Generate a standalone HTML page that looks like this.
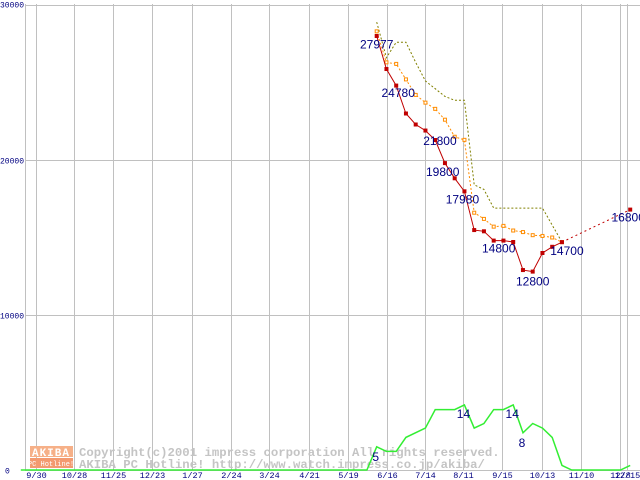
<!DOCTYPE html>
<html><head><meta charset="utf-8"><style>
body{margin:0;background:#fff;width:640px;height:480px;overflow:hidden}
svg{display:block;font-family:"Liberation Mono",monospace}
</style></head><body>
<svg id="chart" width="640" height="480" viewBox="0 0 640 480" xmlns="http://www.w3.org/2000/svg">
<g id="grid"></g>
<g id="watermark">
<rect x="30" y="446" width="43" height="11" fill="#f6b088"/>
<rect x="30" y="458" width="43" height="10" fill="#f39a70"/>
<text x="51" y="456" font-size="11" fill="#fff" text-anchor="middle" font-weight="bold" letter-spacing="1">AKIBA</text>
<text x="51" y="466" font-size="7" fill="#fff" text-anchor="middle">PC Hotline!</text>
<text x="79" y="456" font-size="12.3" fill="#c4c4c4" font-weight="bold">Copyright(c)2001 impress corporation All rights reserved.</text>
<text x="79" y="468" font-size="12.3" fill="#c4c4c4" font-weight="bold">AKIBA PC Hotline!  http://www.watch.impress.co.jp/akiba/</text>
</g>
<g id="series"></g>
<g id="labels"></g>
</svg>
<script>
// data
const xTickLabels = ["9/30","10/28","11/25","12/23","1/27","2/24","3/24","4/21","5/19","6/16","7/14","8/11","9/15","10/13","11/10","12/8","12/15"];
const xTickWeeks = [-34.9,-31,-27,-23,-18.9,-14.9,-11,-6.9,-2.9,1.05,5,8.9,12.9,17,21,25,25.7];
const yTicks = [0,10000,20000,30000];
const minPrice = [28000,25870,24800,23000,22290,21900,21290,19800,18820,17980,15480,15400,14800,14800,14710,12900,12800,14000,14400,14700];
const minWeeks = [0,1,2,3,4,5,6,7,8,9,10,11,12,13,14,15,16,17,18,19];
const lastWeek = 26, lastPrice = 16800;
const avgPrice = [28300,26300,26200,25200,24200,23700,23300,22600,21500,21300,16600,16200,15700,15750,15450,15350,15150,15100,15000,14700];
const maxPrice = [28900,26600,27600,27600,26300,25100,24600,24100,23850,23850,18400,18100,16900,16900,16900,16900,16900,16900,15800,14700];
const shopWeeks = [-1,0,1,2,3,5,6,8,9,10,11,12,13,14,15,16,17,18,19,20,25,26];
const shopCount = [0,5,4,4,7,9,13,13,14,9,10,13,13,14,8,10,9,7,1,0,0,1];
const priceLabelWeeks = [0,2,7,8,9,12,16,19,26];
const priceLabelValues = [27977,24780,21800,19800,17980,14800,12800,14700,16800];
const countLabelWeeks = [0,9,14,15];
const countLabelValues = [5,14,14,8];

// label offsets (layout, not data)
const priceLabelDx=[0,2,-5,-12,-2,5,0,5,-2], priceLabelDy=[12,11,13,13,12,12,14,13,12];
const NS="http://www.w3.org/2000/svg";
const X=w=>376.7+9.75*w;
const Y=v=>470-v*155/10000;
const C=c=>Y(c*300);
function mk(tag,attrs,parent){const e=document.createElementNS(NS,tag);for(const k in attrs)e.setAttribute(k,attrs[k]);parent.appendChild(e);return e;}
const grid=document.getElementById('grid'),ser=document.getElementById('series'),lab=document.getElementById('labels');

yTicks.forEach((v,i)=>{
  const y=Math.round(Y(v))+0.5;
  const l=mk('line',{x1:25,x2:640,y1:y,y2:y,stroke:'#c0c0c0','stroke-width':1},grid);
  
  
  const t=mk('text',{x:v==0?5:0,y:y+(v==30000?2:3),'font-size':8,fill:'#000080'},grid);
  t.textContent=String(v);
  
  
});
const ax=mk('line',{x1:25.5,x2:25.5,y1:4,y2:470,stroke:'#c0c0c0'},grid);


xTickWeeks.forEach((w,i)=>{
  const x=Math.round(X(w))+0.5;
  const l=mk('line',{x1:x,x2:x,y1:4,y2:470,stroke:'#c0c0c0'},grid);
  
  
  const t=mk('text',{x:x,y:478,'font-size':8.5,fill:'#000080','text-anchor':'middle'},grid);
  t.textContent=xTickLabels[i];
  
  
});

function pts(ws,vs,f){return ws.map((w,i)=>X(w).toFixed(1)+','+f(vs[i]).toFixed(1)).join(' ');}
const gw=[-36.5].concat(shopWeeks), gc=[0].concat(shopCount);
const g=mk('polyline',{points:pts(gw,gc,C),fill:'none',stroke:'#33ee33','stroke-width':1.5},ser);


const mx=mk('polyline',{points:pts(minWeeks,maxPrice,Y),fill:'none',stroke:'#808000','stroke-width':1,'stroke-dasharray':'2,2'},ser);


const av=mk('polyline',{points:pts(minWeeks,avgPrice,Y),fill:'none',stroke:'#ff8c00','stroke-width':1,'stroke-dasharray':'2,2'},ser);


avgPrice.forEach((v,i)=>{
  const r=mk('rect',{x:X(minWeeks[i])-1.5,y:Y(v)-1.5,width:3,height:3,fill:'#fff',stroke:'#ff8c00','stroke-width':1},ser);
  
  
});
const mn=mk('polyline',{points:pts(minWeeks,minPrice,Y),fill:'none',stroke:'#c00000','stroke-width':1},ser);


const ext=mk('line',{x1:X(19),y1:Y(minPrice[19]),x2:X(lastWeek),y2:Y(lastPrice),stroke:'#c00000','stroke-dasharray':'2,3'},ser);


minWeeks.concat([lastWeek]).forEach((w,i)=>{
  const v=i<minPrice.length?minPrice[i]:lastPrice;
  const r=mk('rect',{x:X(w)-2,y:Y(v)-2,width:4,height:4,fill:'#c00000'},ser);
  
  
});
priceLabelWeeks.forEach((w,i)=>{
  const v=priceLabelValues[i];
  const t=mk('text',{x:X(w)+priceLabelDx[i],y:Y(v)+priceLabelDy[i],'font-size':12,fill:'#000080','text-anchor':'middle','font-family':'Liberation Sans, sans-serif'},lab);
  t.textContent=String(v);
  
  
});
countLabelWeeks.forEach((w,i)=>{
  const c=countLabelValues[i];
  const t=mk('text',{x:X(w)-1,y:C(c)+(c==5?14:c==8?14:13),'font-size':12,fill:'#000080','text-anchor':'middle','font-family':'Liberation Sans, sans-serif'},lab);
  t.textContent=String(c);
  
  
});
</script>
</body></html>
